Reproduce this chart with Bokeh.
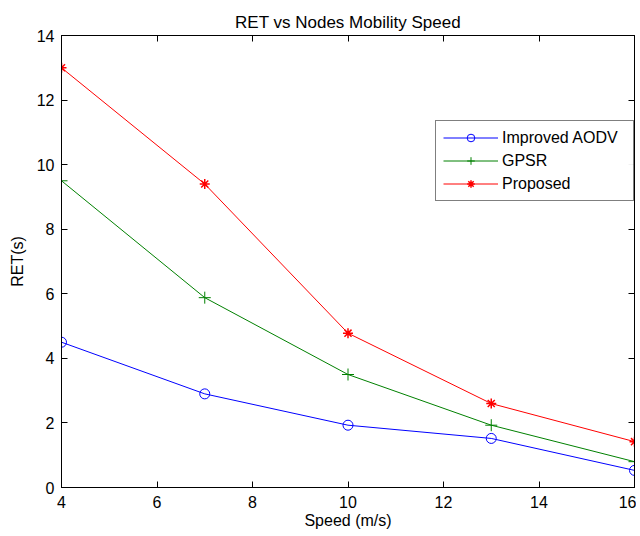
from bokeh.plotting import figure
from bokeh.models import LinearAxis, FixedTicker, Legend, LegendItem, CustomJSTickFormatter
from bokeh.embed import file_html
from bokeh.resources import INLINE

speed = [4, 7, 10, 13, 16]
improved_aodv = [4.5, 2.9, 1.93, 1.52, 0.53]
gpsr = [9.5, 5.88, 3.5, 1.93, 0.8]
proposed = [13.0, 9.4, 4.78, 2.6, 1.42]
x_ticks = [4, 6, 8, 10, 12, 14, 16]
y_ticks = [0, 2, 4, 6, 8, 10, 12, 14]

FONT = "Liberation Sans"

p = figure(frame_width=573, frame_height=452, output_backend="svg", toolbar_location=None,
           x_range=(4, 16), y_range=(0, 14), title="RET vs Nodes Mobility Speed",
           min_border_left=61, min_border_right=2, min_border_top=35, min_border_bottom=46)
p.title.align = "center"
p.title.text_font = FONT
p.title.text_font_style = "normal"
p.title.text_font_size = "17px"
p.title.text_color = "black"
p.title.standoff = 8
p.grid.visible = False
p.outline_line_color = "black"
p.outline_line_width = 1
p.background_fill_color = "white"

def style_axis(ax, ticks, labels=True):
    ax.ticker = FixedTicker(ticks=ticks)
    ax.major_tick_in = 6
    ax.major_tick_out = 0
    ax.minor_tick_line_color = None
    ax.axis_line_color = "black"
    ax.major_tick_line_color = "black"
    ax.major_label_text_font = FONT
    ax.major_label_text_font_size = "16px"
    ax.major_label_text_color = "black"
    ax.axis_label_text_font = FONT
    ax.axis_label_text_font_size = "16px"
    ax.axis_label_text_font_style = "normal"
    ax.axis_label_text_color = "black"
    if not labels:
        ax.formatter = CustomJSTickFormatter(code="return ''")
        ax.major_label_standoff = 0

xa = p.xaxis[0]
ya = p.yaxis[0]
xa.axis_label = "Speed (m/s)"
ya.axis_label = "RET(s)"
style_axis(xa, x_ticks)
style_axis(ya, y_ticks)
xa.axis_label_standoff = 1
ya.axis_label_standoff = 8
ya.major_label_standoff = 7
xa.major_label_standoff = 8

top = LinearAxis()
style_axis(top, x_ticks, labels=False)
p.add_layout(top, "above")
right = LinearAxis()
style_axis(right, y_ticks, labels=False)
p.add_layout(right, "right")

r1l = p.line(speed, improved_aodv, line_color="blue", line_width=1)
r1m = p.scatter(speed, improved_aodv, marker="circle", size=10, line_color="blue",
                fill_color=None, line_width=1)
r2l = p.line(speed, gpsr, line_color="green", line_width=1)
r2m = p.scatter(speed, gpsr, marker="cross", size=12, line_color="green", line_width=1)
r3l = p.line(speed, proposed, line_color="red", line_width=1)
r3m = p.scatter(speed, proposed, marker="asterisk", size=10, line_color="red", line_width=1.5)

legend = Legend(items=[
    LegendItem(label="Improved AODV", renderers=[r1l, r1m]),
    LegendItem(label="GPSR", renderers=[r2l, r2m]),
    LegendItem(label="Proposed", renderers=[r3l, r3m]),
], location=(374, 286))
legend.border_line_color = "black"
legend.border_line_width = 1
legend.label_text_font = FONT
legend.label_text_font_size = "16px"
legend.label_text_color = "black"
legend.glyph_width = 55
legend.glyph_height = 19
legend.label_height = 19
legend.label_width = 124
legend.spacing = 4
legend.padding = 7
legend.margin = 0
legend.label_standoff = 4
p.add_layout(legend, "center")

open("out.html", "w").write(file_html(p, INLINE))
